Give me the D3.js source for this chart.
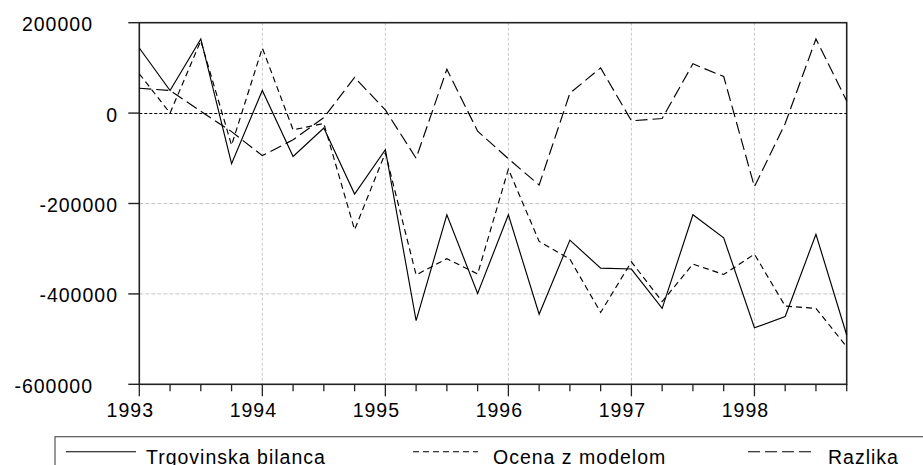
<!DOCTYPE html>
<html>
<head>
<meta charset="utf-8">
<script src="https://cdn.jsdelivr.net/npm/d3@7"></script>
<style>
  body { margin: 0; background: #fff; }
  svg text { font-family: Arial, "Liberation Sans", sans-serif; font-size: 19.5px; letter-spacing: 1px; fill: #000; }
</style>
</head>
<body>
<svg id="chart" width="923" height="465"></svg>
<script>
// quarters 1993Q1 .. 1998Q4
var quarters = ["1993Q1","1993Q2","1993Q3","1993Q4","1994Q1","1994Q2","1994Q3","1994Q4",
                "1995Q1","1995Q2","1995Q3","1995Q4","1996Q1","1996Q2","1996Q3","1996Q4",
                "1997Q1","1997Q2","1997Q3","1997Q4","1998Q1","1998Q2","1998Q3","1998Q4"];
var bilanca = [144000, 50000, 164000, -112000, 50000, -96000, -33000, -179000,
               -81000, -459000, -225000, -399000, -225000, -445000, -281000, -343000,
               -345000, -432000, -225000, -276000, -475000, -450000, -268000, -491000];
var ocena = [87000, 0, 160000, -71000, 144000, -37000, -23000, -258000,
             -88000, -358000, -322000, -356000, -124000, -284000, -323000, -441000,
             -329000, -417000, -334000, -357000, -312000, -427000, -432000, -517000];
var razlika = [55000, 50000, 4000, -41000, -94000, -59000, -10000, 79000,
               7000, -100000, 97000, -40000, -101000, -159000, 44000, 100000,
               -17000, -12000, 109000, 81000, -163000, -23000, 164000, 27000];
var yTicks = [200000, 0, -200000, -400000, -600000];
var seriesNames = ["Trgovinska bilanca", "Ocena z modelom", "Razlika"];

var svg = d3.select("#chart");
// plot box (note: "top" is reserved on window, so use other names)
var pLeft = 139.3, pRight = 846.7, pTop = 22.7, pBottom = 384.3;

var x = d3.scalePoint().domain(quarters).range([pLeft, pRight]);
var y = d3.scaleLinear().domain([-600000, 200000]).range([pBottom, pTop]);

// grid
svg.append("g").selectAll("line").data(yTicks.filter(function(d){ return d != 0 && d > -600000 && d < 200000; }))
  .enter().append("line")
  .attr("x1", pLeft).attr("x2", pRight)
  .attr("y1", function(d){ return y(d); }).attr("y2", function(d){ return y(d); })
  .attr("stroke", "#c8c8c8").attr("stroke-dasharray", "4,2");
var years = quarters.filter(function(q){ return q.slice(4) == "Q1"; });
svg.append("g").selectAll("line").data(years.slice(1))
  .enter().append("line")
  .attr("x1", function(d){ return x(d); }).attr("x2", function(d){ return x(d); })
  .attr("y1", pTop).attr("y2", pBottom)
  .attr("stroke", "#c8c8c8").attr("stroke-dasharray", "3,2");

// zero line
svg.append("line")
  .attr("x1", pLeft).attr("x2", pRight).attr("y1", Math.round(y(0)) + 0.5).attr("y2", Math.round(y(0)) + 0.5)
  .attr("stroke", "#000").attr("stroke-width", 1.1).attr("stroke-dasharray", "3,2");

// frame
svg.append("rect").attr("x", pLeft).attr("y", pTop)
  .attr("width", pRight - pLeft).attr("height", pBottom - pTop)
  .attr("fill", "none").attr("stroke", "#222").attr("stroke-width", 1.6);

// y ticks + labels
var yAxis = svg.append("g");
yAxis.selectAll("line").data(yTicks).enter().append("line")
  .attr("x1", pLeft - 11).attr("x2", pLeft)
  .attr("y1", function(d){ return y(d); }).attr("y2", function(d){ return y(d); })
  .attr("stroke", "#222").attr("stroke-width", 1.4);
yAxis.selectAll("text").data(yTicks).enter().append("text")
  .attr("text-anchor", "end")
  .attr("x", function(d){ return (d == 200000 || d == -600000) ? 93 : 118; })
  .attr("y", function(d){ return y(d) + 8.5; })
  .text(function(d){ return d; });

// x ticks + labels
var xAxis = svg.append("g");
xAxis.selectAll("line").data(quarters).enter().append("line")
  .attr("x1", function(d){ return x(d); }).attr("x2", function(d){ return x(d); })
  .attr("y1", pBottom)
  .attr("y2", function(d){ return d.slice(4) == "Q1" ? pBottom + 12 : pBottom + 7; })
  .attr("stroke", "#222").attr("stroke-width", 1.3);
xAxis.selectAll("text").data(years).enter().append("text")
  .attr("text-anchor", "middle")
  .attr("x", function(d){ return x(d) - 9; })
  .attr("y", 416.5)
  .text(function(d){ return d.slice(0, 4); });

// series
var line = d3.line().x(function(d, i){ return x(quarters[i]); }).y(function(d){ return y(d); });
var styles = [null, "6,4", "12,5"];
[bilanca, ocena, razlika].forEach(function(s, k){
  svg.append("path").datum(s)
    .attr("d", line)
    .attr("fill", "none").attr("stroke", "#000").attr("stroke-width", 1.15)
    .attr("stroke-dasharray", styles[k]);
});

// legend
var lg = svg.append("g");
lg.append("rect").attr("x", 55).attr("y", 436.7).attr("width", 900).attr("height", 60)
  .attr("fill", "none").attr("stroke", "#555").attr("stroke-width", 1.2);
var legX = [66, 413, 748];
seriesNames.forEach(function(n, k){
  lg.append("line").attr("x1", legX[k]).attr("x2", legX[k] + (k == 0 ? 70 : k == 1 ? 65 : 67))
    .attr("y1", 451.7).attr("y2", 451.7)
    .attr("stroke", "#000").attr("stroke-width", 1.1)
    .attr("stroke-dasharray", styles[k]);
  lg.append("text").attr("x", [146, 493, 828][k]).attr("y", 463.5).text(n);
});
</script>
</body>
</html>
